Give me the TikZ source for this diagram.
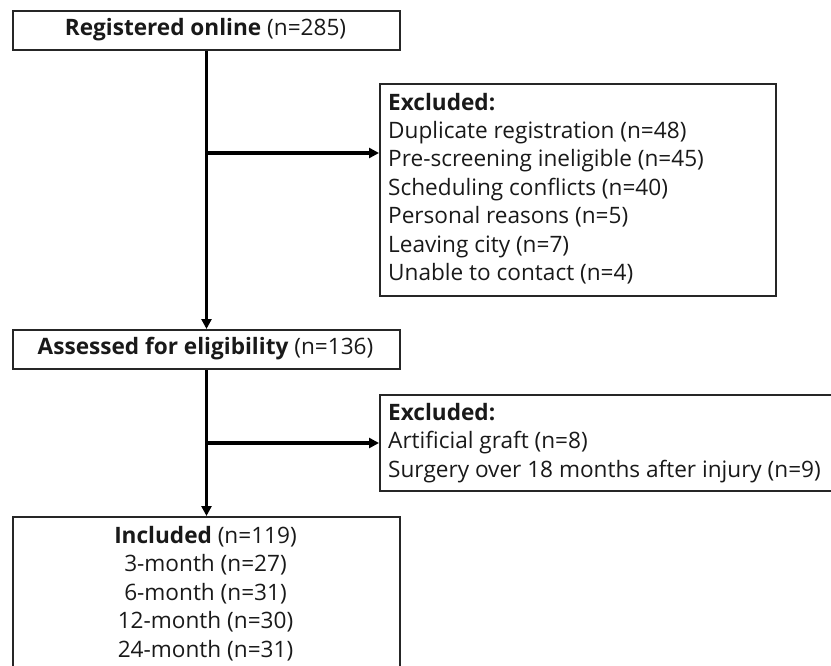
\documentclass[tikz,border=0pt]{standalone}
\usepackage{fontspec}
\setmainfont{Open Sans}
\usetikzlibrary{arrows.meta}
\begin{document}
\begin{tikzpicture}[x=1pt,y=-1pt,
  box/.style={draw=black!85, line width=2pt, rectangle, inner sep=0pt, anchor=north west},
  txt/.style={font=\fontsize{22.6}{28.4}\selectfont, text=black!90, inner sep=0pt},
  flow/.style={line width=3.5pt, -{Triangle[length=10pt,width=10pt]}}]
\useasboundingbox (0,0) rectangle (831,665);
\clip (0,0) rectangle (831,665);
% boxes
\node[box, minimum width=387pt, minimum height=39pt] (reg) at (12,10) {};
\node[txt] (regt) at (205.5,30) {\textbf{Registered online} (n=285)};
\node[box, minimum width=396pt, minimum height=212pt] (ex1) at (379,83) {};
\node[txt, anchor=west, align=left] (ex1t) at (388,188.5) {\textbf{Excluded:}\\Duplicate registration (n=48)\\Pre-screening ineligible (n=45)\\Scheduling conflicts (n=40)\\Personal reasons (n=5)\\Leaving city (n=7)\\Unable to contact (n=4)};
\node[box, minimum width=387pt, minimum height=39pt] (ass) at (12,329) {};
\node[txt] (asst) at (205.5,348.5) {\textbf{Assessed for eligibility} (n=136)};
\node[box, minimum width=470pt, minimum height=96pt] (ex2) at (379,394) {};
\node[txt, anchor=west, align=left] (ex2t) at (388,443) {\textbf{Excluded:}\\Artificial graft (n=8)\\Surgery over 18 months after injury (n=9)};
\node[box, minimum width=387pt, minimum height=180pt] (inc) at (12,516) {};
\node[txt, align=center] (inct) at (205.5,593.5) {\textbf{Included} (n=119)\\3-month (n=27)\\6-month (n=31)\\12-month (n=30)\\24-month (n=31)};
% connectors
\coordinate (b1) at (reg.south |- 0,153);
\coordinate (b2) at (ass.south |- 0,443);
\draw[flow] (reg.south) -- (ass.north);
\draw[flow] (b1) -- (b1 -| ex1.west);
\draw[flow] (ass.south) -- (inc.north);
\draw[flow] (b2) -- (b2 -| ex2.west);
\end{tikzpicture}
\end{document}
